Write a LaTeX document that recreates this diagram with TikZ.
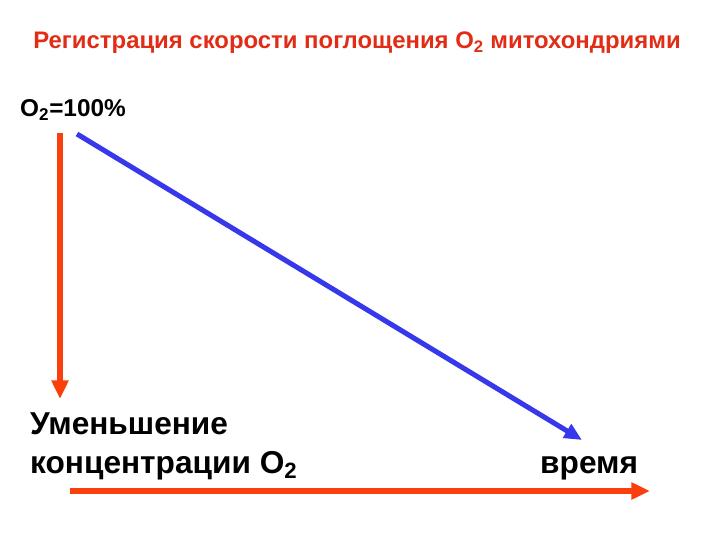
\documentclass[tikz,border=0pt]{standalone}
\usepackage{fontspec}
\setmainfont{Liberation Sans}
\usetikzlibrary{arrows.meta}
\definecolor{titlered}{RGB}{226,45,22}
\definecolor{arrowred}{RGB}{250,62,12}
\definecolor{lineblue}{RGB}{55,55,235}
\tikzset{
  Heading/.style = {font=\bfseries\fontsize{20.4}{24}\selectfont,
                    text=titlered, inner sep=0pt},
  Level/.style   = {font=\bfseries\fontsize{20.8}{25}\selectfont, inner sep=0pt},
  Label/.style   = {font=\bfseries\fontsize{27}{32.5}\selectfont,
                    inner sep=0pt, align=left},
  RedArrow/.style  = {draw=arrowred, line width=5pt,
                      -{Triangle[length=16pt,width=14pt]}},
  BlueArrow/.style = {draw=lineblue, line width=4.3pt,
                      -{Triangle[length=15pt,width=13pt]}}
}

\begin{document}
\begin{tikzpicture}[x=0.03cm,y=-0.03cm]
	\useasboundingbox (0,0) rectangle (720,540);
	\node[Heading,anchor=base] (title) at (357,49)
		{Регистрация скорости поглощения O\textsubscript{2} митохондриями};
	\node[Level,anchor=base west] (full) at (20,117) {O\textsubscript{2}=100\%};
	\node[Label,anchor=base west] (drop) at (30,473)
		{Уменьшение\\концентрации O\textsubscript{2}};
	\node[Label,anchor=base west] (time) at (540,473) {время};
	\coordinate (redtop) at (60,133);
	\coordinate (redtip) at (60,399);
	\coordinate (bluetop) at (77,134);
	\coordinate (bluetip) at (582,440);
	\coordinate (axisstart) at (70,491);
	\coordinate (axistip) at (650,491);
	\draw[RedArrow] (redtop) -- (redtip);
	\draw[BlueArrow] (bluetop) -- (bluetip);
	\draw[RedArrow] (axisstart) -- (axistip);
\end{tikzpicture}
\end{document}
